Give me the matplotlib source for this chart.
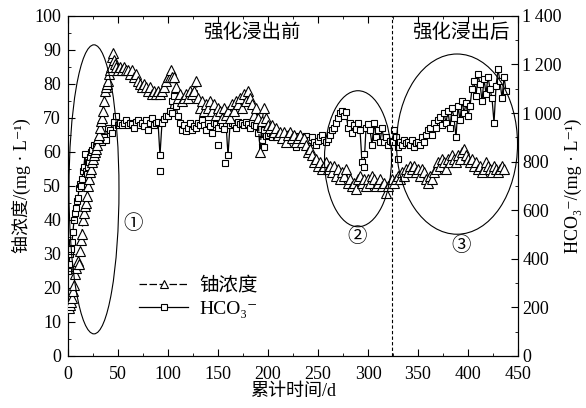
import matplotlib
matplotlib.use("Agg")
import matplotlib.pyplot as plt
from matplotlib.patches import Ellipse
from matplotlib.ticker import MultipleLocator, FuncFormatter

plt.rcParams['font.family'] = ['Liberation Serif', 'Noto Sans CJK SC', 'DejaVu Serif']

# uranium concentration (mg/L), left axis
u_days = [1, 2, 3, 4, 5, 6, 7, 8, 9, 10, 11, 12, 13, 14, 15, 16, 17, 18, 19, 20,
          21, 22, 23, 24, 25, 26, 27, 28, 29, 30, 31, 32, 33, 34, 35, 36, 37, 38, 39, 40,
          41, 42, 43, 44, 45, 46, 47, 48, 50, 52, 54, 56, 58, 60, 62, 64, 66, 68, 70, 72,
          74, 76, 78, 80, 82, 84, 86, 88, 90, 92, 94, 96, 98, 100, 102, 103, 104, 106, 108, 110,
          112, 114, 116, 118, 120, 122, 124, 126, 128, 130, 132, 134, 136, 138, 140, 142, 144, 146, 148, 150,
          152, 154, 156, 158, 160, 162, 164, 166, 168, 170, 172, 174, 176, 178, 180, 182, 184, 186, 188, 190,
          192, 194, 196, 198, 200, 202, 204, 206, 208, 210, 212, 214, 216, 218, 220, 222, 224, 226, 228, 230,
          232, 234, 236, 238, 240, 242, 244, 246, 248, 250, 252, 254, 256, 258, 260, 262, 264, 266, 268, 270,
          272, 274, 276, 278, 280, 282, 284, 286, 288, 290, 292, 294, 296, 298, 300, 302, 304, 306, 308, 310,
          312, 314, 316, 318, 320, 322, 324, 326, 328, 330, 332, 334, 336, 338, 340, 342, 344, 346, 348, 350,
          352, 354, 356, 358, 360, 362, 364, 366, 368, 370, 372, 374, 376, 378, 380, 382, 384, 386, 388, 390,
          392, 394, 396, 398, 400, 402, 404, 406, 408, 410, 412, 414, 416, 418, 420, 422, 424, 426, 428, 430,
          432, 434, 436]
uranium = [14, 15, 16, 17, 19, 21, 24, 26, 27, 28, 27, 31, 34, 36, 40, 42, 44, 45, 47, 50,
           52, 54, 55, 57, 58, 59, 60, 61, 62, 64, 65, 67, 69, 70, 72, 75, 78, 79, 80, 81,
           83, 84, 85, 88, 89, 87, 86, 85, 84, 85, 84, 85, 84, 84, 83, 84, 82, 83, 81, 80,
           79, 80, 79, 78, 79, 77, 78, 77, 78, 77, 78, 79, 81, 82, 82, 84, 82, 82, 79, 76,
           77, 75, 76, 77, 76, 78, 77, 78, 81, 76, 73, 75, 72, 74, 73, 75, 72, 74, 71, 73,
           72, 70, 73, 71, 72, 70, 74, 72, 75, 74, 76, 73, 77, 75, 78, 76, 74, 71, 73, 70,
           60, 69, 73, 70, 68, 67, 68, 66, 67, 65, 66, 64, 66, 63, 65, 66, 64, 65, 63, 64,
           65, 63, 64, 62, 60, 61, 59, 57, 58, 56, 57, 55, 56, 57, 55, 56, 54, 56, 53, 55,
           52, 54, 53, 55, 51, 52, 50, 51, 49, 52, 53, 51, 52, 50, 52, 51, 53, 52, 50, 51,
           52, 50, 51, 48, 50, 51, 52, 51, 52, 53, 52, 54, 53, 55, 54, 56, 55, 56, 54, 55,
           53, 55, 54, 52, 51, 53, 52, 54, 55, 57, 56, 58, 57, 55, 58, 57, 59, 58, 57, 59,
           58, 60, 61, 59, 58, 57, 58, 56, 57, 55, 56, 54, 55, 57, 56, 55, 54, 56, 55, 54,
           55, 56, 55]

# HCO3- concentration (mg/L), right axis
h_days = [0, 1, 2, 3, 4, 5, 6, 7, 8, 9, 10, 11, 12, 13, 14, 15, 16, 17, 18, 19,
          20, 21, 22, 23, 24, 26, 28, 30, 32, 34, 36, 38, 40, 42, 44, 46, 48, 50, 52, 54,
          56, 58, 60, 62, 64, 66, 68, 70, 72, 74, 76, 78, 80, 82, 84, 86, 88, 90, 92, 94,
          96, 98, 100, 102, 104, 106, 108, 110, 112, 114, 116, 118, 120, 122, 124, 126, 128, 130, 132, 134,
          136, 138, 140, 142, 144, 146, 148, 150, 152, 154, 156, 158, 160, 162, 164, 166, 168, 170, 172, 174,
          176, 178, 180, 182, 184, 186, 188, 190, 192, 194, 196, 198, 200, 202, 204, 206, 208, 210, 212, 214,
          216, 218, 220, 222, 224, 226, 228, 230, 232, 234, 236, 238, 240, 242, 244, 246, 248, 250, 252, 254,
          256, 258, 260, 262, 264, 266, 268, 270, 272, 274, 276, 278, 280, 282, 284, 286, 288, 290, 292, 294,
          296, 298, 300, 302, 304, 306, 308, 310, 312, 314, 316, 318, 320, 322, 324, 326, 328, 330, 332, 334,
          336, 338, 340, 342, 344, 346, 348, 350, 352, 354, 356, 358, 360, 362, 364, 366, 368, 370, 372, 374,
          376, 378, 380, 382, 384, 386, 388, 390, 392, 394, 396, 398, 400, 402, 404, 406, 408, 410, 412, 414,
          416, 418, 420, 422, 424, 426, 428, 430, 432, 434, 436, 438]
hco3 = [350, 380, 420, 440, 470, 510, 560, 590, 610, 640, 650, 690, 710, 700, 730, 760, 780, 830, 760, 750,
        780, 800, 820, 840, 850, 870, 860, 880, 890, 880, 900, 890, 940, 930, 920, 965, 990, 950, 960, 950,
        960, 970, 950, 960, 955, 940, 965, 970, 950, 960, 945, 970, 930, 960, 980, 950, 960, 965, 826, 960,
        975, 990, 990, 1010, 1050, 1070, 1030, 990, 960, 930, 950, 925, 940, 960, 930, 945, 940, 960, 950, 970,
        950, 930, 960, 945, 920, 960, 955, 940, 965, 950, 935, 960, 826, 950, 960, 955, 940, 965, 955, 960,
        950, 965, 955, 940, 960, 950, 945, 920, 935, 890, 930, 905, 910, 920, 900, 915, 905, 920, 910, 900,
        915, 895, 905, 890, 910, 900, 880, 905, 895, 900, 885, 905, 880, 890, 900, 880, 870, 885, 900, 910,
        890, 880, 895, 910, 930, 940, 960, 980, 1000, 1010, 990, 1005, 940, 960, 920, 950, 935, 960, 930, 800,
        780, 940, 955, 930, 870, 960, 900, 930, 880, 940, 880, 900, 870, 885, 880, 930, 900, 860, 880, 870,
        890, 875, 880, 870, 890, 860, 875, 880, 870, 900, 880, 910, 930, 940, 910, 960, 940, 970, 985, 950,
        1000, 960, 1010, 940, 1020, 980, 900, 1030, 970, 1050, 1000, 1040, 990, 1030, 1100, 1130, 1070, 1160, 1120, 1050,
        1140, 1080, 1150, 1100, 1060, 960, 1110, 1180, 1130, 1060, 1150, 1090]

# isolated HCO3- readings
h_out_days = [92, 104, 150, 157, 196, 228, 296, 330]
h_out = [762, 1000, 870, 795, 860, 860, 830, 810]

fig = plt.figure(figsize=(5.86, 4.08), dpi=100)
ax = fig.add_axes([0.116, 0.1275, 0.768, 0.8335])
ax2 = ax.twinx()

ax.plot(u_days, uranium, color='black', lw=0.9, ls=(0, (6, 2)), marker='^', ms=6.5,
        mfc='white', mec='black', mew=0.8, zorder=3)
ax2.plot(h_days, hco3, color='black', lw=0.9, marker='s', ms=5,
         mfc='white', mec='black', mew=0.8, zorder=2)
ax2.plot(h_out_days, h_out, ls='none', marker='s', ms=5, mfc='white', mec='black', mew=0.8)

ax.set_zorder(ax2.get_zorder() + 1)
ax.patch.set_visible(False)

ax.set_xlim(0, 450)
ax.set_ylim(0, 100)
ax2.set_ylim(0, 1400)

ax.xaxis.set_major_locator(MultipleLocator(50))
ax.xaxis.set_minor_locator(MultipleLocator(25))
ax.yaxis.set_major_locator(MultipleLocator(10))
ax.yaxis.set_minor_locator(MultipleLocator(5))
ax2.yaxis.set_major_locator(MultipleLocator(200))
ax2.yaxis.set_minor_locator(MultipleLocator(100))
ax2.yaxis.set_major_formatter(FuncFormatter(lambda v, p: f"{int(v):,}".replace(",", "\u2009")))

ax.tick_params(which='both', direction='in', top=True, labelsize=13)
ax.tick_params(axis='x', which='both', pad=7)
ax.tick_params(axis='y', which='both', pad=5)
ax.tick_params(which='major', length=5)
ax.tick_params(which='minor', length=2.5)
ax2.tick_params(which='both', direction='in', labelsize=13, pad=3)
ax2.tick_params(which='major', length=5)
ax2.tick_params(which='minor', length=2.5)

ax.set_xlabel('累计时间/d', fontsize=13, labelpad=0)
ax.set_ylabel('铀浓度/(mg · L⁻¹)', fontsize=13, labelpad=2)
ax2.set_ylabel('HCO₃⁻/(mg · L⁻¹)', fontsize=13, labelpad=2)

# boundary between the two stages
ax.axvline(324, color='black', lw=0.8, ls=(0, (3, 2)))
ax.text(184, 95, '强化浸出前', ha='center', va='center', fontsize=14)
ax.text(393, 95, '强化浸出后', ha='center', va='center', fontsize=14)

# circled regions
for cx, cy, w, h in [(26, 49, 50, 85), (290, 58, 67, 40), (389, 62.3, 121, 53)]:
    ax.add_patch(Ellipse((cx, cy), w, h, fill=False, lw=0.8, color='black', zorder=4))
ax.text(65, 39, '①', ha='center', va='center', fontsize=14)
ax.text(289, 35, '②', ha='center', va='center', fontsize=14)
ax.text(393, 32.5, '③', ha='center', va='center', fontsize=14)

# legend
h1, = ax.plot([], [], color='black', lw=0.9, ls=(0, (6, 2)), marker='^', ms=6, mfc='white', mec='black', mew=0.8)
h2, = ax.plot([], [], color='black', lw=0.9, marker='s', ms=4, mfc='white', mec='black', mew=0.8)
ax.legend([h1, h2], ['铀浓度', 'HCO₃⁻'], loc='lower left', bbox_to_anchor=(0.12, 0.06),
          frameon=False, fontsize=14, handlelength=2.5, handletextpad=0.6, labelspacing=0.3)

fig.savefig('out.png', dpi=100)
